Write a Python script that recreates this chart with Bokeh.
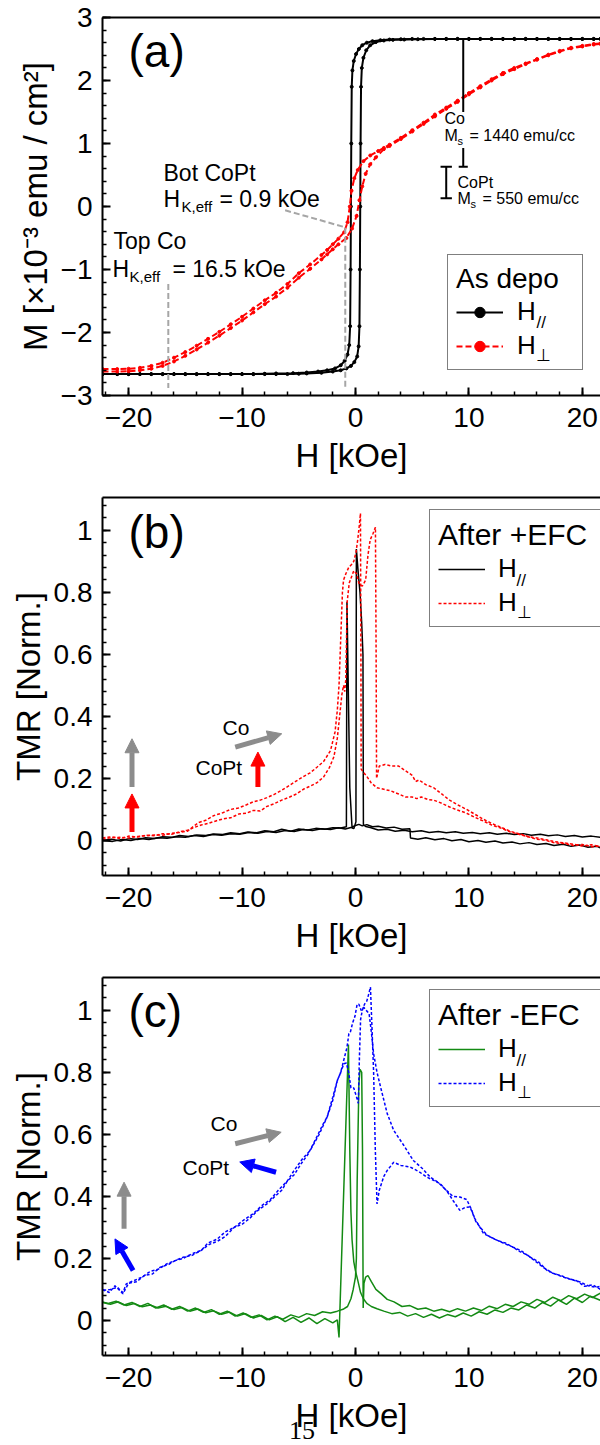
from bokeh.plotting import figure
from bokeh.layouts import column
from bokeh.models import (Range1d, SingleIntervalTicker, CustomJSTickFormatter, Label, Arrow,
                          NormalHead, Legend, LegendItem, LinearAxis, FixedTicker, Div)
from bokeh.embed import file_html
from bokeh.resources import INLINE

FONT = "Liberation Sans"

# ---------------- panel (a): M-H loops, as deposited ----------------
a_par_dn_H = [21.6, 21, 20, 19, 18, 17, 16, 15, 14, 13, 12, 11, 10, 9, 8, 7, 6, 5, 4,
              3, 2.2, 1.5, 1.0, 0.6, 0.3, 0.05, -0.15, -0.27, -0.33, -0.37, -0.40, -0.43, -0.47,
              -0.55, -0.7, -0.95, -1.3, -1.8, -2.5, -3.3, -4.3, -5.5,
              -7, -8, -9, -10, -11, -12, -13, -14, -15, -16, -17, -18, -19, -20, -21, -22.3]
a_par_dn_M = [2.66, 2.66, 2.66, 2.66, 2.66, 2.66, 2.66, 2.66, 2.66, 2.66, 2.66, 2.66, 2.66, 2.66, 2.66, 2.66, 2.66, 2.66, 2.655,
              2.65, 2.64, 2.625, 2.60, 2.56, 2.50, 2.42, 2.31, 2.16, 1.9, 1.0, 0.0, -1.0, -1.9,
              -2.2, -2.35, -2.45, -2.52, -2.57, -2.60, -2.62, -2.635, -2.645,
              -2.65, -2.655, -2.66, -2.66, -2.66, -2.66, -2.66, -2.66, -2.66, -2.66, -2.66, -2.66, -2.66, -2.66, -2.66, -2.66]
a_par_up_H = [-22.3, -21, -20, -19, -18, -17, -16, -15, -14, -13, -12, -11, -10, -9, -8, -7, -6,
              -5, -4.3, -3.0, -2.0, -1.3, -0.8, -0.4, -0.1, 0.15, 0.28, 0.35, 0.39, 0.42, 0.45, 0.49,
              0.56, 0.7, 0.95, 1.3, 1.8, 2.5, 3.3, 4.3, 5.5,
              7, 8, 9, 10, 11, 12, 13, 14, 15, 16, 17, 18, 19, 20, 21, 21.6]
a_par_up_M = [-2.66, -2.66, -2.66, -2.66, -2.66, -2.66, -2.66, -2.66, -2.66, -2.66, -2.66, -2.66, -2.66, -2.66, -2.66, -2.66, -2.66,
              -2.655, -2.65, -2.64, -2.62, -2.60, -2.57, -2.53, -2.47, -2.38, -2.22, -1.9, -1.0, 0.0, 1.0, 1.9,
              2.2, 2.36, 2.48, 2.56, 2.61, 2.635, 2.645, 2.65, 2.655,
              2.66, 2.66, 2.66, 2.66, 2.66, 2.66, 2.66, 2.66, 2.66, 2.66, 2.66, 2.66, 2.66, 2.66, 2.66, 2.66]

a_perp1_H = [-22.3, -21, -20, -19, -18, -17, -16, -15, -14, -13, -12, -11, -10, -9, -8, -7, -6, -5, -4, -3,
             -2.5, -2, -1.5, -1.0, -0.7, -0.5, -0.35, -0.1, 0.2, 0.7, 1.3, 2.0, 2.5, 3, 4, 5, 6, 7, 8, 9,
             10, 11, 12, 13, 14, 15, 16, 17, 18, 19, 20, 21, 21.6]
a_perp1_M = [-2.58, -2.58, -2.575, -2.56, -2.53, -2.48, -2.40, -2.31, -2.21, -2.10, -1.99, -1.87, -1.75, -1.62, -1.49, -1.37, -1.23, -1.06, -0.92, -0.77,
             -0.69, -0.60, -0.51, -0.41, -0.25, 0.0, 0.25, 0.45, 0.58, 0.72, 0.81, 0.88, 0.93, 0.98, 1.09, 1.21, 1.33, 1.46, 1.57, 1.68,
             1.80, 1.91, 2.02, 2.12, 2.20, 2.27, 2.34, 2.41, 2.47, 2.52, 2.55, 2.58, 2.59]
a_perp2_H = [-22.3, -21, -20, -19, -18, -17, -16, -15, -14, -13, -12, -11, -10, -9, -8, -7, -6, -5, -4, -3,
             -2.5, -2, -1.5, -0.8, -0.3, 0.1, 0.35, 0.6, 0.9, 1.3, 1.8, 2.5, 3, 4, 5, 6, 7, 8, 9,
             10, 11, 12, 13, 14, 15, 16, 17, 18, 19, 20, 21, 21.6]
a_perp2_M = [-2.62, -2.62, -2.615, -2.60, -2.575, -2.53, -2.46, -2.37, -2.27, -2.16, -2.05, -1.93, -1.81, -1.68, -1.55, -1.43, -1.29, -1.13, -0.99, -0.84,
             -0.76, -0.68, -0.60, -0.50, -0.35, -0.15, 0.10, 0.32, 0.52, 0.67, 0.78, 0.91, 0.96, 1.07, 1.19, 1.31, 1.43, 1.55, 1.66,
             1.78, 1.89, 2.00, 2.10, 2.18, 2.26, 2.33, 2.40, 2.46, 2.51, 2.54, 2.57, 2.58]

hk_top_co = 16.5        # kOe
hk_bot_copt = 0.9       # kOe
ms_co_bar = [2.66, 0.63]      # Co step (top, bottom)
ms_copt_bar = [0.63, 0.13]    # CoPt step (top, bottom)

# ---------------- panel (b): TMR after +EFC ----------------
b_par1_H = [-22.3, -21.5, -20.7, -20, -19.2, -18.5, -17.7, -17, -16.2, -15.5, -14.7, -14, -13.2, -12.5, -11.7, -11, -10.2,
            -9.5, -8.7, -8, -7.2, -6.5, -5.7, -5, -4.2, -3.5, -2.7, -2, -1.3, -0.8, -0.75, -0.5, -0.3, -0.2, 0, 0.3, 0.6,
            1.0, 1.5, 2.0, 2.7, 3.4, 4.1, 4.8, 4.85, 5.5, 6.2, 7, 7.8, 8.5, 9.3, 10, 10.8, 11.5, 12.3, 13, 13.8, 14.5,
            15.3, 16, 16.8, 17.5, 18.3, 19, 19.8, 20.5, 21.3, 21.6]
b_par1_T = [0.000, 0.004, -0.002, 0.006, 0.003, 0.009, 0.006, 0.012, 0.010, 0.016, 0.013, 0.018, 0.016, 0.021, 0.019, 0.025, 0.022,
            0.027, 0.025, 0.031, 0.028, 0.036, 0.030, 0.037, 0.034, 0.039, 0.036, 0.041, 0.040, 0.044, 0.77, 0.17, 0.04, 0.045, 0.048, 0.052, 0.047,
            0.051, 0.044, 0.046, 0.040, 0.043, 0.036, 0.038, 0.008, 0.004, 0.009, 0.002, 0.006, -0.001, 0.003, -0.004, 0.000, -0.006, -0.002, -0.008, -0.005, -0.011,
            -0.007, -0.013, -0.010, -0.016, -0.012, -0.019, -0.015, -0.022, -0.019, -0.024]
b_par2_H = [21.6, 20.8, 20, 19.3, 18.5, 17.8, 17, 16.3, 15.5, 14.8, 14, 13.3, 12.5, 11.8, 11, 10.3, 9.5, 8.8, 8, 7.3,
            6.5, 5.8, 5, 4.3, 3.5, 2.8, 2, 1.3, 0.9, 0.7, 0.66, 0.55, 0.4, 0.25, 0.08, 0.04, -0.15, -0.4, -0.9, -1.5,
            -2.2, -3, -3.8, -4.6, -5.4, -6.2, -7, -7.8, -8.6, -9.4, -10.2, -11, -11.8, -12.6, -13.4, -14.2, -15, -15.8,
            -16.6, -17.4, -18.2, -19, -19.8, -20.6, -21.4, -22.3]
b_par2_T = [0.010, 0.014, 0.011, 0.016, 0.013, 0.018, 0.015, 0.020, 0.017, 0.022, 0.019, 0.023, 0.020, 0.025, 0.022, 0.026, 0.023, 0.028, 0.025, 0.029,
            0.026, 0.031, 0.028, 0.033, 0.030, 0.036, 0.034, 0.042, 0.045, 0.050, 0.60, 0.70, 0.80, 0.86, 0.94, 0.06, 0.038, 0.042, 0.037, 0.041,
            0.035, 0.038, 0.032, 0.035, 0.029, 0.032, 0.026, 0.029, 0.023, 0.026, 0.020, 0.022, 0.017, 0.019, 0.013, 0.016, 0.010, 0.012,
            0.007, 0.009, 0.003, 0.006, 0.000, 0.003, -0.003, 0.000]

b_perp1_H = [-22.3, -21.5, -20.7, -20, -19.2, -18.5, -17.7, -17, -16.2, -15.5, -14.8, -14.2, -13.6, -13, -12.3, -11.6, -11, -10.3,
             -9.6, -9, -8.4, -7.8, -7.2, -6.5, -5.8, -5.2, -4.6, -4, -3.4, -2.8, -2.3, -1.9, -1.6, -1.4, -1.2, -1.05, -0.95,
             -0.85, -0.73, -0.55, -0.35, -0.15, 0.1, 0.3, 0.6, 0.9, 1.1, 1.3, 1.55, 1.76, 1.82, 1.86, 2.1, 2.6, 3.2, 3.8,
             4.4, 5.0, 5.3, 5.6, 6.2, 6.9, 7.6, 8.3, 9.0, 9.8, 10.5, 11.3, 12, 12.8, 13.6, 14.4, 15.2, 16, 16.8, 17.6,
             18.4, 19.2, 20, 20.8, 21.6]
b_perp1_T = [0.008, 0.012, 0.006, 0.014, 0.011, 0.017, 0.015, 0.022, 0.020, 0.028, 0.033, 0.042, 0.050, 0.055, 0.063, 0.070, 0.073, 0.085,
             0.088, 0.097, 0.095, 0.110, 0.118, 0.130, 0.140, 0.150, 0.165, 0.175, 0.186, 0.205, 0.235, 0.27, 0.33, 0.40, 0.47, 0.50, 0.48,
             0.52, 0.77, 0.83, 0.85, 0.87, 0.86, 0.83, 0.82, 0.84, 0.92, 0.97, 0.99, 1.01, 0.60, 0.20, 0.24, 0.245, 0.24, 0.24,
             0.225, 0.21, 0.19, 0.195, 0.18, 0.17, 0.15, 0.13, 0.115, 0.10, 0.085, 0.068, 0.055, 0.043, 0.030, 0.022, 0.013, 0.008, 0.002, -0.004,
             -0.008, -0.012, -0.018, -0.014, -0.020]
b_perp2_H = [-22.3, -21.5, -20.7, -20, -19.2, -18.5, -17.7, -17, -16.2, -15.5, -14.8, -14.3, -13.8, -13.2, -12.5, -11.8, -11, -10.3,
             -9.6, -9, -8.4, -7.8, -7.2, -6.5, -5.8, -5.2, -4.6, -4, -3.4, -2.8, -2.2, -1.8, -1.6, -1.45, -1.3, -1.15, -1.05,
             -0.85, -0.6, -0.35, -0.15, 0.05, 0.2, 0.35, 0.44, 0.48, 0.5, 0.7, 1.03, 1.4, 1.9, 2.5, 3.1, 3.8, 4.4, 5.0,
             5.4, 5.8, 6.4, 6.9, 7.6, 8.3, 9, 9.8, 10.5, 11.3, 12, 12.8, 13.6, 14.4, 15.2, 16, 16.8, 17.6, 18.4, 19.2,
             20, 20.8, 21.6]
b_perp2_T = [0.004, 0.009, 0.010, 0.008, 0.013, 0.015, 0.018, 0.017, 0.023, 0.026, 0.030, 0.045, 0.058, 0.065, 0.080, 0.088, 0.100, 0.105,
             0.115, 0.125, 0.130, 0.138, 0.148, 0.162, 0.178, 0.192, 0.206, 0.218, 0.236, 0.255, 0.29, 0.35, 0.42, 0.50, 0.65, 0.80, 0.84,
             0.86, 0.88, 0.89, 0.90, 0.93, 0.97, 1.02, 1.055, 0.60, 0.23, 0.22, 0.205, 0.185, 0.17, 0.165, 0.16, 0.15, 0.14, 0.14,
             0.135, 0.14, 0.132, 0.13, 0.12, 0.108, 0.098, 0.088, 0.075, 0.062, 0.050, 0.040, 0.028, 0.020, 0.012, 0.004, 0.000, -0.008, -0.010, -0.016,
             -0.013, -0.020, -0.018]

# ---------------- panel (c): TMR after -EFC ----------------
c_par1_H = [-22.3, -21.6, -20.9, -20.2, -19.5, -18.8, -18.1, -17.4, -16.7, -16, -15.3, -14.6, -13.9, -13.2, -12.5, -11.8, -11.1,
            -10.4, -9.7, -9, -8.3, -7.6, -6.9, -6.2, -5.5, -4.8, -4.1, -3.4, -2.7, -2.0, -1.6, -1.45, -0.62, -0.5, -0.4, -0.3,
            -0.15, 0.0, 0.2, 0.45, 0.7, 1.0, 1.4, 1.9, 2.5, 3.2, 3.9, 4.6, 5.3, 6.0, 6.7, 7.4, 8.1, 8.8, 9.5, 10.2, 10.9,
            11.6, 12.3, 13, 13.7, 14.4, 15.1, 15.8, 16.5, 17.2, 17.9, 18.6, 19.3, 20, 20.7, 21.6]
c_par1_T = [0.058, 0.052, 0.060, 0.048, 0.055, 0.044, 0.050, 0.040, 0.046, 0.035, 0.042, 0.030, 0.037, 0.025, 0.031, 0.020, 0.027,
            0.014, 0.022, 0.008, 0.016, 0.002, 0.012, -0.004, 0.010, -0.006, 0.008, -0.010, 0.006, -0.008, 0.002, -0.055, 0.89, 0.55, 0.35, 0.26,
            0.19, 0.16, 0.13, 0.09, 0.07, 0.055, 0.045, 0.038, 0.030, 0.022, 0.026, 0.014, 0.022, 0.010, 0.020, 0.008, 0.019, 0.012, 0.024, 0.014, 0.028,
            0.020, 0.034, 0.026, 0.040, 0.034, 0.050, 0.040, 0.058, 0.046, 0.066, 0.052, 0.072, 0.058, 0.078, 0.065]
c_par2_H = [21.6, 20.9, 20.2, 19.5, 18.8, 18.1, 17.4, 16.7, 16, 15.3, 14.6, 13.9, 13.2, 12.5, 11.8, 11.1, 10.4, 9.7, 9, 8.3,
            7.6, 6.9, 6.2, 5.5, 4.8, 4.1, 3.4, 2.8, 2.3, 1.8, 1.4, 1.1, 0.9, 0.75, 0.68, 0.62, 0.55, 0.4, 0.3, 0.15, 0.08,
            0.0, -0.2, -0.4, -0.7, -1.1, -1.6, -2.2, -2.9, -3.6, -4.3, -5.0, -5.7, -6.4, -7.1, -7.8, -8.5, -9.2, -9.9,
            -10.6, -11.3, -12, -12.7, -13.4, -14.1, -14.8, -15.5, -16.2, -16.9, -17.6, -18.3, -19, -19.7, -20.4, -21.1,
            -21.8, -22.3]
c_par2_T = [0.088, 0.074, 0.085, 0.070, 0.080, 0.064, 0.075, 0.058, 0.068, 0.052, 0.060, 0.045, 0.052, 0.038, 0.046, 0.032, 0.040, 0.030, 0.038, 0.028,
            0.036, 0.030, 0.040, 0.036, 0.048, 0.045, 0.060, 0.068, 0.085, 0.10, 0.125, 0.145, 0.14, 0.12, 0.04, 0.55, 0.80, 0.81, 0.76, 0.45, 0.20,
            0.14, 0.10, 0.07, 0.045, 0.036, 0.030, 0.024, 0.028, 0.016, 0.022, 0.010, 0.018, 0.004, 0.014, 0.002, 0.018, 0.010, 0.024,
            0.014, 0.030, 0.020, 0.035, 0.026, 0.040, 0.030, 0.045, 0.036, 0.050, 0.040, 0.055, 0.045, 0.058, 0.050, 0.062,
            0.055, 0.060]

c_perp1_H = [-22.3, -21.7, -21.2, -20.5, -20, -19.3, -18.6, -17.9, -17.2, -16.5, -15.8, -15.1, -14.4, -13.6, -12.9, -12.2, -11.5,
             -10.7, -10.0, -9.3, -8.6, -7.8, -7.1, -6.5, -6.0, -5.4, -4.8, -4.2, -3.5, -2.9, -2.5, -2.0, -1.6, -1.3, -1.03,
             -0.8, -0.6, -0.4, -0.15, 0.1, 0.25, 0.35, 0.45, 0.6, 0.8, 1.0, 1.15, 1.32, 1.45, 1.6, 1.75, 1.9, 2.1, 2.5,
             2.8, 3.37, 4.0, 4.8, 5.6, 6.3, 7.0, 7.5, 8.1, 8.6, 9.2, 9.7, 10.1, 10.5, 10.9, 11.3, 12.5, 13.2, 13.9, 14.6,
             15.4, 16.1, 16.9, 17.6, 18.3, 19, 19.8, 20.5, 21.2, 21.6]
c_perp1_T = [0.10, 0.09, 0.112, 0.086, 0.12, 0.125, 0.145, 0.15, 0.172, 0.18, 0.195, 0.205, 0.21, 0.226, 0.245, 0.255, 0.27,
             0.30, 0.31, 0.33, 0.355, 0.376, 0.40, 0.42, 0.45, 0.47, 0.505, 0.535, 0.585, 0.63, 0.656, 0.71, 0.774, 0.80, 0.828,
             0.83, 0.80, 0.75, 0.75, 0.72, 0.70, 0.85, 0.97, 1.0, 1.02, 1.03, 1.05, 1.075, 0.95, 0.80, 0.55, 0.376, 0.42, 0.465,
             0.484, 0.51, 0.50, 0.495, 0.48, 0.462, 0.45, 0.44, 0.415, 0.387, 0.355, 0.365, 0.366, 0.33, 0.305, 0.28, 0.258, 0.25, 0.236, 0.225,
             0.204, 0.19, 0.161, 0.15, 0.14, 0.132, 0.124, 0.112, 0.107, 0.11]
c_perp2_H = [21.6, 20.9, 20.2, 19.5, 18.8, 18.1, 17.4, 16.6, 15.9, 15.2, 14.5, 13.8, 13, 12.3, 11.6, 11.0, 10.6, 10.2, 9.8,
             9.2, 8.6, 8.0, 7.3, 6.6, 5.9, 5.1, 4.25, 3.37, 2.8, 2.3, 1.9, 1.6, 1.4, 1.2, 0.95, 0.73, 0.5, 0.3, 0.15,
             -0.05, -0.25, -0.45, -0.58, -0.75, -1.03, -1.3, -1.6, -2.0, -2.5, -3.2, -4.0, -4.7, -5.4, -6.0, -6.8, -7.5,
             -8.2, -9.0, -9.8, -10.7, -11.5, -12.2, -13, -13.6, -14.4, -15.2, -15.9, -16.6, -17.4, -18.1, -18.8, -19.5,
             -20.2, -20.5, -21, -21.6, -22.3]
c_perp2_T = [0.10, 0.115, 0.11, 0.128, 0.135, 0.145, 0.152, 0.17, 0.19, 0.21, 0.222, 0.238, 0.25, 0.262, 0.275, 0.30, 0.32, 0.36, 0.39,
             0.398, 0.40, 0.42, 0.445, 0.462, 0.49, 0.516, 0.565, 0.613, 0.667, 0.74, 0.80, 0.86, 0.93, 0.99, 1.0, 1.01, 1.0, 1.02, 1.02,
             0.98, 0.96, 0.93, 0.925, 0.88, 0.84, 0.80, 0.774, 0.72, 0.656, 0.60, 0.548, 0.52, 0.484, 0.45, 0.42, 0.39,
             0.372, 0.345, 0.325, 0.30, 0.285, 0.262, 0.25, 0.226, 0.215, 0.20, 0.193, 0.183, 0.165, 0.158, 0.14, 0.129,
             0.118, 0.09, 0.107, 0.10, 0.097]

H_RANGE = (-22.3, 21.6)
PAGE_NUMBER = "15"


def minus_fmt():
    return CustomJSTickFormatter(code="""
        const v = Math.round(tick * 100) / 100;
        return (v < 0 ? '\u2212' : '') + String(Math.abs(v));
    """)


def make_fig(y_range, y_interval, height, top_b, bottom_b, y_label, label_standoff):
    p = figure(width=600, height=height, x_range=Range1d(*H_RANGE), y_range=Range1d(*y_range),
               output_backend="svg", toolbar_location=None,
               min_border_left=102, min_border_right=0, min_border_top=top_b, min_border_bottom=bottom_b)
    p.outline_line_color = None
    p.grid.visible = False
    p.background_fill_color = "white"
    p.border_fill_color = "white"
    p.xaxis.ticker = SingleIntervalTicker(interval=10, num_minor_ticks=5)
    p.yaxis.ticker = SingleIntervalTicker(interval=y_interval, num_minor_ticks=5)
    for ax in (p.xaxis[0], p.yaxis[0]):
        ax.formatter = minus_fmt()
        ax.axis_line_width = 2
        ax.axis_line_color = "black"
        ax.major_tick_in = 8
        ax.major_tick_out = 0
        ax.minor_tick_in = 4
        ax.minor_tick_out = 0
        ax.major_tick_line_width = 2
        ax.minor_tick_line_width = 1.5
        ax.major_tick_line_color = "black"
        ax.minor_tick_line_color = "black"
        ax.major_label_text_font = FONT
        ax.major_label_text_font_size = "28px"
        ax.major_label_text_color = "black"
        ax.axis_label_text_font = FONT
        ax.axis_label_text_font_size = "33px"
        ax.axis_label_text_font_style = "normal"
        ax.axis_label_text_color = "black"
    p.xaxis.axis_label = "H [kOe]"
    p.xaxis.major_label_standoff = 12
    p.xaxis.axis_label_standoff = label_standoff
    p.yaxis.axis_label = y_label
    p.yaxis.major_label_standoff = 10
    p.yaxis.axis_label_standoff = 4
    top = LinearAxis(ticker=FixedTicker(ticks=[]), axis_line_width=2, axis_line_color="black",
                     major_tick_in=0, major_tick_out=0, minor_tick_in=0, minor_tick_out=0)
    p.add_layout(top, "above")
    return p


def txt(p, x, y, s, size, font=FONT, color="black", align="left"):
    p.add_layout(Label(x=x, y=y, x_units="screen", y_units="screen", text=s, text_font=font,
                       text_font_size=f"{size}px", text_color=color, text_baseline="middle",
                       text_align=align))


def arrow(p, x0, y0, x1, y1, color):
    p.add_layout(Arrow(end=NormalHead(size=14, fill_color=color, line_color=color, line_width=1),
                       x_start=x0, y_start=y0, x_end=x1, y_end=y1, line_color=color, line_width=5))


def make_legend(p, items, title, loc, title_size, glyph_w, standoff, label_w):
    leg = Legend(items=items, location=loc, title=title, orientation="vertical")
    leg.title_text_font = FONT
    leg.title_text_font_size = f"{title_size}px"
    leg.title_text_font_style = "normal"
    leg.title_text_color = "black"
    leg.title_standoff = 1
    leg.label_text_font = FONT
    leg.label_text_font_size = "26px"
    leg.label_text_color = "black"
    leg.border_line_color = "black"
    leg.border_line_width = 1.5
    leg.background_fill_alpha = 0.0
    leg.padding = 8
    leg.spacing = 3
    leg.margin = 0
    leg.glyph_width = glyph_w
    leg.glyph_height = 26
    leg.label_standoff = standoff
    leg.label_width = label_w
    p.add_layout(leg)
    return leg


GRAY = "#8c8c8c"
DGRAY = "#a6a6a6"

# ======== (a) ========
FB_A = 395
pa = make_fig((-3, 3), 1, 488, 17, 93, "M [×10⁻³ emu / cm²]", 7)
la1 = pa.line(a_par_dn_H, a_par_dn_M, line_color="black", line_width=2)
pa.line(a_par_up_H, a_par_up_M, line_color="black", line_width=2)
sa1 = pa.scatter(a_par_dn_H, a_par_dn_M, size=3, color="black")
pa.scatter(a_par_up_H, a_par_up_M, size=3, color="black")
la2 = pa.line(a_perp1_H, a_perp1_M, line_color="red", line_width=2, line_dash="6 3")
pa.line(a_perp2_H, a_perp2_M, line_color="red", line_width=2, line_dash="6 3")
sa2 = pa.scatter(a_perp1_H, a_perp1_M, size=3, color="red")
pa.scatter(a_perp2_H, a_perp2_M, size=3, color="red")

# anisotropy-field guides
pa.line([-hk_top_co, -hk_top_co], [-1.23, -2.88], line_color=DGRAY, line_width=2, line_dash="6 3")
pa.line([-6.2, -hk_bot_copt, -hk_bot_copt], [-0.06, -0.33, -2.88], line_color=DGRAY, line_width=2, line_dash="6 3")
# Ms bars
pa.segment(x0=[9.5, 9.5, 9.1], y0=[ms_co_bar[0], 0.93, ms_co_bar[1]],
           x1=[9.5, 9.5, 9.9], y1=[1.50, ms_co_bar[1], ms_co_bar[1]], line_color="black", line_width=2)
pa.segment(x0=[8.0, 7.5, 7.5], y0=[ms_copt_bar[0], ms_copt_bar[0], ms_copt_bar[1]],
           x1=[8.0, 8.5, 8.5], y1=[ms_copt_bar[1], ms_copt_bar[0], ms_copt_bar[1]], line_color="black", line_width=2)

txt(pa, 26, FB_A - 50, "(a)", 46)
txt(pa, 61, FB_A - 172, "Bot CoPt", 23)
txt(pa, 61, FB_A - 198, "H", 23)
txt(pa, 79, FB_A - 206, "K,eff", 15)
txt(pa, 117, FB_A - 198, "= 0.9 kOe", 23)
txt(pa, 11, FB_A - 240, "Top Co", 23)
txt(pa, 10, FB_A - 268, "H", 23)
txt(pa, 27, FB_A - 276, "K,eff", 15)
txt(pa, 70, FB_A - 268, "= 16.5 kOe", 23)
txt(pa, 342, FB_A - 118, "Co", 16)
txt(pa, 342, FB_A - 135, "M", 16)
txt(pa, 355, FB_A - 140, "s", 11)
txt(pa, 367, FB_A - 135, "= 1440 emu/cc", 16)
txt(pa, 355, FB_A - 182, "CoPt", 16)
txt(pa, 355, FB_A - 198, "M", 16)
txt(pa, 368, FB_A - 203, "s", 11)
txt(pa, 380, FB_A - 198, "= 550 emu/cc", 16)

make_legend(pa, [LegendItem(label="H", renderers=[la1, sa1]), LegendItem(label="H", renderers=[la2, sa2])],
            "As depo", (345, 25), 28, 47, 14, 57)
txt(pa, 434, FB_A - 322, "//", 17)
txt(pa, 433, FB_A - 355, "⊥", 17)

# ======== (b) ========
FB_B = 875
pb = make_fig((-0.113, 1.106), 0.2, 480, 9, 93, "TMR [Norm.]", 7)
lb1 = pb.line(b_par1_H, b_par1_T, line_color="black", line_width=1.5)
pb.line(b_par2_H, b_par2_T, line_color="black", line_width=1.5)
lb2 = pb.line(b_perp1_H, b_perp1_T, line_color="red", line_width=1.5, line_dash="3 2")
pb.line(b_perp2_H, b_perp2_T, line_color="red", line_width=1.5, line_dash="3 2")
arrow(pb, -19.7, 0.172, -19.7, 0.328, GRAY)
arrow(pb, -19.7, 0.027, -19.7, 0.15, "red")
arrow(pb, -10.6, 0.301, -6.5, 0.344, GRAY)
arrow(pb, -8.6, 0.172, -8.6, 0.285, "red")
txt(pb, 26, FB_B - 531, "(b)", 46)
txt(pb, 120, FB_B - 727, "Co", 21)
txt(pb, 93, FB_B - 767, "CoPt", 21)
make_legend(pb, [LegendItem(label="H", renderers=[lb1]), LegendItem(label="H", renderers=[lb2])],
            "After +EFC", (327, 248), 30, 47, 13, 100)
txt(pb, 414, FB_B - 580, "//", 17)
txt(pb, 414, FB_B - 612, "⊥", 17)

# ======== (c) ========
FB_C = 1355
pc = make_fig((-0.113, 1.106), 0.2, 477, 9, 90, "TMR [Norm.]", 7)
lc1 = pc.line(c_par1_H, c_par1_T, line_color="#138a13", line_width=1.5)
pc.line(c_par2_H, c_par2_T, line_color="#138a13", line_width=1.5)
lc2 = pc.line(c_perp1_H, c_perp1_T, line_color="blue", line_width=1.5, line_dash="3 2")
pc.line(c_perp2_H, c_perp2_T, line_color="blue", line_width=1.5, line_dash="3 2")
arrow(pc, -20.4, 0.296, -20.4, 0.446, GRAY)
arrow(pc, -19.6, 0.161, -21.2, 0.263, "blue")
arrow(pc, -10.6, 0.570, -6.55, 0.607, GRAY)
arrow(pc, -7.0, 0.478, -10.2, 0.511, "blue")
txt(pc, 26, FB_C - 1010, "(c)", 46)
txt(pc, 108, FB_C - 1123, "Co", 21)
txt(pc, 80, FB_C - 1167, "CoPt", 21)
make_legend(pc, [LegendItem(label="H", renderers=[lc1]), LegendItem(label="H", renderers=[lc2])],
            "After -EFC", (327, 248), 30, 47, 13, 100)
txt(pc, 414, FB_C - 1060, "//", 17)
txt(pc, 414, FB_C - 1092, "⊥", 17)

# page number printed under the figure (overlaps the last axis label area)
page_no = Div(text=PAGE_NUMBER, width=40, height=30,
              styles={"position": "absolute", "top": "1411px", "left": "284px",
                      "font-family": "Liberation Serif", "font-size": "26px", "line-height": "30px",
                      "color": "black"})

layout = column(pa, pb, pc, page_no, spacing=0)
open("out.html", "w").write(file_html(layout, INLINE))
